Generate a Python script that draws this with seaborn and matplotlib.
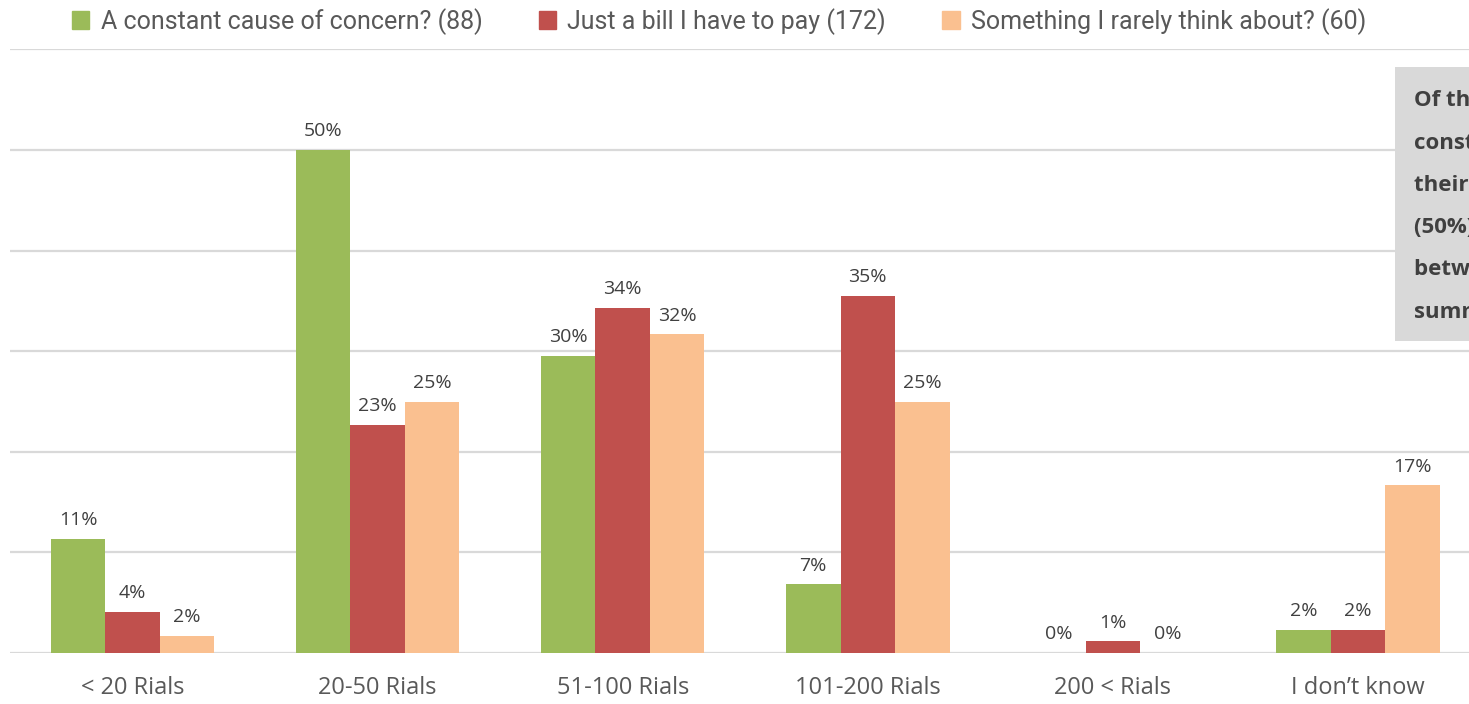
import matplotlib
matplotlib.use("Agg")
import matplotlib.pyplot as plt
import matplotlib.patches as mpatches
import pandas as pd
import seaborn as sns

CATEGORIES = ["< 20 Rials", "20-50 Rials", "51-100 Rials", "101-200 Rials", "200 < Rials", "I don\u2019t know"]
SERIES = [
    "A constant cause of concern? (88)",
    "Just a bill I have to pay (172)",
    "Something I rarely think about? (60)",
]
CONCERN = [11.36, 50.0, 29.55, 6.82, 0.0, 2.27]
BILL = [4.07, 22.67, 34.30, 35.47, 1.16, 2.33]
RARELY = [1.67, 25.0, 31.67, 25.0, 0.0, 16.67]
COLORS = ["#9BBB59", "#C0504D", "#FAC090"]
# the note box runs off the right edge of the original chart, so only the
# start of each line shows
NOTE_LINES = [
    "Of those who see it as a",
    "constant concern, most say",
    "their summer bill is usually",
    "(50%) somewhere",
    "between 20-50 Rials in",
    "summer months.",
]

rows = []
for name, values in zip(SERIES, [CONCERN, BILL, RARELY]):
    for cat, v in zip(CATEGORIES, values):
        rows.append({"category": cat, "series": name, "value": v})
df = pd.DataFrame(rows)

sns.set_style("white")
plt.rcParams["font.family"] = ["Open Sans", "DejaVu Sans"]

fig = plt.figure(figsize=(14.69, 7.04), dpi=100)
ax = fig.add_axes([10 / 1469, 51 / 704, 1470.5 / 1469, 603.6 / 704])

sns.barplot(
    data=df, x="category", y="value", hue="series", order=CATEGORIES,
    hue_order=SERIES, palette=COLORS, saturation=1, width=0.667,
    linewidth=0, legend=False, ax=ax, zorder=3,
)

ax.set_xlim(-0.5, 5.5)
ax.set_ylim(0, 60)
ax.set_yticks(range(0, 61, 10))
ax.yaxis.grid(True, color="#d9d9d9", linewidth=1.6, zorder=0)
ax.set_axisbelow(True)
ax.tick_params(axis="y", left=False, labelleft=False)
ax.tick_params(axis="x", bottom=False, labelsize=17, labelcolor="#595959", pad=13)
for spine in ax.spines.values():
    spine.set_visible(False)
ax.set_xlabel("")
ax.set_ylabel("")

for container, values in zip(ax.containers, [CONCERN, BILL, RARELY]):
    ax.bar_label(container, labels=[f"{round(v)}%" for v in values],
                 padding=7, fontsize=14, color="#404040")

handles = [mpatches.Patch(color=c, label=s) for c, s in zip(COLORS, SERIES)]
fig.legend(handles=handles, loc="center", bbox_to_anchor=(0.4895, 0.970), ncol=3,
           frameon=False, handlelength=0.7, handleheight=0.7, handletextpad=0.45,
           columnspacing=2.25, prop={"family": "Roboto", "size": 18}, labelcolor="#595959")

fig.patches.append(mpatches.Rectangle((1395 / 1469, (704 - 341) / 704), 0.2, 274 / 704,
                                      transform=fig.transFigure, facecolor="#d9d9d9",
                                      edgecolor="none", zorder=5))
for i, line in enumerate(NOTE_LINES):
    fig.text(1414 / 1469, (704 - 101 - i * 42.2) / 704, line, fontsize=16, fontweight="bold",
             color="#404040", va="center", ha="left", zorder=6)

fig.savefig("out.png", dpi=100)
